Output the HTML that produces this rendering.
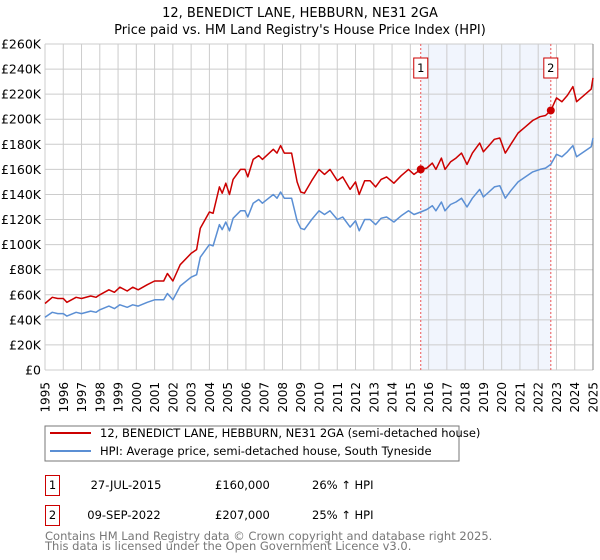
<!DOCTYPE html>
<html><head><meta charset="utf-8"><style>
body{margin:0;background:#fff;font-family:"DejaVu Sans","Liberation Sans",sans-serif;}
svg{display:block}
</style></head><body>
<svg width="600" height="560" viewBox="0 0 600 560" xmlns="http://www.w3.org/2000/svg">
<text x="300" y="17" text-anchor="middle" font-size="13">12, BENEDICT LANE, HEBBURN, NE31 2GA</text>
<text x="300" y="34" text-anchor="middle" font-size="13">Price paid vs. HM Land Registry's House Price Index (HPI)</text>
<g id="plot"></g>
<g id="legend">
<rect x="45" y="426" width="414" height="35" fill="#fff" stroke="#777"/>
<line x1="50" y1="433" x2="91" y2="433" stroke="#cc0000" stroke-width="2"/>
<text x="100" y="437" font-size="11.5">12, BENEDICT LANE, HEBBURN, NE31 2GA (semi-detached house)</text>
<line x1="50" y1="451" x2="91" y2="451" stroke="#5b8fd4" stroke-width="2"/>
<text x="100" y="455" font-size="11.5">HPI: Average price, semi-detached house, South Tyneside</text>
</g>
<g font-size="11.5">
<rect x="45.5" y="475.5" width="14" height="20" fill="none" stroke="#cc0000"/>
<text x="52.5" y="489" text-anchor="middle">1</text>
<text x="126" y="489" text-anchor="middle">27-JUL-2015</text>
<text x="215" y="489">£160,000</text>
<text x="312" y="489">26% ↑ HPI</text>
<rect x="45.5" y="505.5" width="14" height="20" fill="none" stroke="#cc0000"/>
<text x="52.5" y="519" text-anchor="middle">2</text>
<text x="124" y="519" text-anchor="middle">09-SEP-2022</text>
<text x="215" y="519">£207,000</text>
<text x="312" y="519">25% ↑ HPI</text>
</g>
<text x="45" y="540" font-size="11.5" fill="#777">Contains HM Land Registry data © Crown copyright and database right 2025.</text>
<text x="45" y="550" font-size="11.5" fill="#777">This data is licensed under the Open Government Licence v3.0.</text>
</svg>
<script>
const years=[1995,1995.4,1995.7,1996.0,1996.2,1996.7,1997.0,1997.5,1997.8,1998.0,1998.5,1998.8,1999.1,1999.5,1999.8,2000.1,2000.6,2001.0,2001.5,2001.7,2002.0,2002.4,2003.0,2003.3,2003.5,2004.0,2004.2,2004.55,2004.7,2004.9,2005.1,2005.3,2005.7,2005.95,2006.1,2006.4,2006.7,2006.9,2007.5,2007.7,2007.9,2008.1,2008.5,2008.8,2009.0,2009.2,2009.6,2010.0,2010.3,2010.6,2011.0,2011.3,2011.7,2012.0,2012.2,2012.5,2012.8,2013.1,2013.4,2013.7,2014.1,2014.5,2014.9,2015.2,2015.57,2015.9,2016.2,2016.4,2016.7,2016.9,2017.2,2017.5,2017.8,2018.1,2018.4,2018.8,2019.0,2019.3,2019.6,2019.9,2020.2,2020.5,2020.9,2021.3,2021.7,2022.1,2022.4,2022.69,2023.0,2023.3,2023.6,2023.9,2024.1,2024.5,2024.9,2025.0];
const hpiValues=[42,46,45,45,43,46,45,47,46,48,51,49,52,50,52,51,54,56,56,61,56,67,74,76,90,100,99,116,112,118,111,121,127,127,122,133,136,133,140,137,142,137,137,119,113,112,120,127,124,127,120,122,114,119,111,120,120,116,121,122,118,123,127,124,126,128,131,127,134,127,132,134,137,130,137,144,138,142,146,147,137,143,150,154,158,160,161,164,172,170,174,179,170,174,178,185];
const priceValues=[53,58,57,57,54,58,57,59,58,60,64,62,66,63,66,64,68,71,71,77,71,84,93,96,113,126,125,146,141,149,140,152,160,160,154,168,171,168,176,173,179,173,173,150,142,141,151,160,156,160,151,154,144,150,140,151,151,146,152,154,149,155,160,156,160,161,165,160,169,160,166,169,173,164,173,181,174,179,184,185,173,180,189,194,199,202,203,207,217,214,219,226,214,219,224,233];
const yTicks=[0,20,40,60,80,100,120,140,160,180,200,220,240,260];
const xTicks=[1995,1996,1997,1998,1999,2000,2001,2002,2003,2004,2005,2006,2007,2008,2009,2010,2011,2012,2013,2014,2015,2016,2017,2018,2019,2020,2021,2022,2023,2024,2025];
const saleYears=[2015.57,2022.69];
const salePrices=[160,207];
const saleLabels=["1","2"];

const NS="http://www.w3.org/2000/svg";
const X0=45,X1=593,Y0=370,Y1=44;
const xs=y=>X0+(y-1995)/(2025-1995)*(X1-X0);
const ys=v=>Y0-v/260*(Y0-Y1);
const plot=document.getElementById('plot');
function mk(tag,attrs){const e=document.createElementNS(NS,tag);for(const k in attrs)e.setAttribute(k,attrs[k]);plot.appendChild(e);return e;}

let e=mk('rect',{x:xs(saleYears[0]),y:Y1,width:xs(saleYears[1])-xs(saleYears[0]),height:Y0-Y1,fill:'#eef3fc',opacity:0.8});


yTicks.forEach(t=>{
 const l=mk('line',{x1:X0,x2:X1,y1:ys(t),y2:ys(t),stroke:'#ccc','stroke-width':1});
 
 
 const tx=mk('text',{x:41,y:ys(t)+4.5,'text-anchor':'end','font-size':12.5});
 
 
 tx.textContent=t===0?'£0':'£'+t+'K';
});
xTicks.forEach(t=>{
 const l=mk('line',{x1:xs(t),x2:xs(t),y1:Y1,y2:Y0,stroke:'#ccc','stroke-width':1});
 
 
 const tx=mk('text',{x:0,y:0,'text-anchor':'end','font-size':12,transform:`translate(${xs(t)+4.5},382) rotate(-90)`});
 
 
 tx.textContent=t;
});
e=mk('line',{x1:X1,x2:X1,y1:Y1,y2:Y0,stroke:'#888','stroke-width':1});


saleYears.forEach((sy,i)=>{
 const l=mk('line',{x1:xs(sy),x2:xs(sy),y1:Y1,y2:Y0,stroke:'#e55','stroke-width':1,'stroke-dasharray':'2,2'});
 
 
 const r=mk('rect',{x:xs(sy)-7,y:58,width:14,height:20,fill:'#fff',stroke:'#cc0000'});
 
 
 const t=mk('text',{x:xs(sy),y:72,'text-anchor':'middle','font-size':11.5});
 
 
 t.textContent=saleLabels[i];
});
const pth=vals=>vals.map((v,i)=>(i?'L':'M')+xs(years[i]).toFixed(1)+','+ys(v).toFixed(1)).join('');
e=mk('path',{d:pth(hpiValues),fill:'none',stroke:'#5b8fd4','stroke-width':1.5,'stroke-linejoin':'round'});


e=mk('path',{d:pth(priceValues),fill:'none',stroke:'#cc0000','stroke-width':1.5,'stroke-linejoin':'round'});


saleYears.forEach((sy,i)=>{
 const c=mk('circle',{cx:xs(sy),cy:ys(salePrices[i]),r:4,fill:'#cc0000'});
 
 
});
</script>
</body></html>
